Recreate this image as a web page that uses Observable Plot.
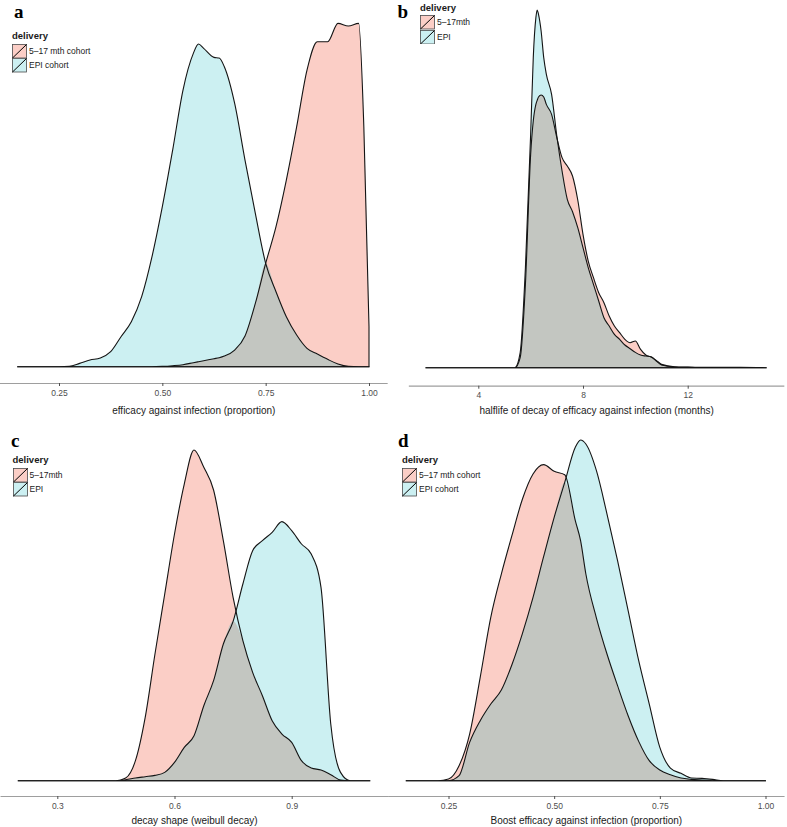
<!DOCTYPE html>
<html><head><meta charset="utf-8">
<script src="https://cdn.jsdelivr.net/npm/d3@7"></script>
<script src="https://cdn.jsdelivr.net/npm/@observablehq/plot@0.6"></script>
<style>
body{margin:0;background:#fff;font-family:"Liberation Sans",Arial,Helvetica,sans-serif;}
#fig{position:relative;width:787px;height:827px;overflow:hidden;background:#fff;}
.panel{position:absolute;}
.panel svg{display:block;overflow:visible;}
.panel g[aria-label="x-axis label"] text{font-size:10px;fill:#1a1a1a;}
.letter{position:absolute;font-family:"Liberation Serif","Times New Roman",serif;font-weight:bold;font-size:19px;line-height:19px;color:#000;}
.legend{position:absolute;font-size:8.5px;color:#1a1a1a;}
.legend .ttl{font-weight:bold;font-size:9.5px;line-height:11px;height:11px;margin-bottom:2.5px;}
.legend .row{display:flex;align-items:center;height:14.5px;}
.legend .row svg{display:block;margin-right:2px;}
</style>
</head><body>
<div id="fig"></div>
<script>
// ---------- data (density, relative units) ----------
const seriesNamesLong = ["5\u201317 mth cohort", "EPI cohort"];
const seriesNamesShort = ["5\u201317mth", "EPI"];

// a: efficacy against infection (proportion)
const xA = [0.15,0.175,0.2,0.225,0.25,0.275,0.3,0.325,0.35,0.375,0.4,0.425,0.45,0.475,0.5,0.525,0.55,0.575,0.5875,0.6,0.625,0.6375,0.65,0.675,0.7,0.725,0.75,0.775,0.8,0.825,0.85,0.875,0.9,0.925,0.95,0.975,0.9875,1.0];
const cohortA = [0,0,0,0,0,0,0,0,0,0,0,0,0,0,1,3,6,12,15,18,24,27,32,50,92,190,310,420,560,720,890,975,975,1030,1022,1030,720,120];
const epiA    = [0,0,0,0,0,1,10,20,26,45,90,135,210,330,480,650,830,940,968,955,928,926,900,790,620,460,310,225,150,95,55,38,22,8,1,0,0,0];
const ticksA = [0.25,0.5,0.75,1.0];

// b: halflife of decay of efficacy against infection (months)
const xB = [2,3,4,5,5.4,5.6,5.8,6.0,6.1,6.2,6.25,6.3,6.4,6.5,6.6,6.8,7.0,7.2,7.4,7.6,7.8,8.0,8.2,8.4,8.6,8.8,9.0,9.2,9.4,9.6,9.8,10.0,10.2,10.4,10.6,10.8,11,11.5,12,13,14,15];
const cohortB = [0,0,0,0,0,30,250,640,740,790,802,812,818,812,790,760,690,630,605,575,503,400,320,270,225,195,155,125,105,85,75,80,55,38,32,22,10,3,2,1,1,0];
const epiB    = [0,0,0,0,0,45,300,700,930,1050,1073,1060,1010,930,880,820,695,590,505,468,420,360,300,250,200,150,125,100,85,68,57,46,38,35,33,20,8,2,1,0,0,0];
const ticksB = [4,8,12];

// c: decay shape (weibull decay)
const xC = [0.2,0.225,0.25,0.275,0.3,0.325,0.35,0.375,0.4,0.425,0.45,0.475,0.5,0.525,0.55,0.575,0.6,0.625,0.65,0.675,0.7,0.725,0.75,0.775,0.8,0.825,0.85,0.875,0.9,0.925,0.95,0.975,1.0,1.025,1.05,1.075,1.1];
const cohortC = [0,0,0,0,0,0,0,0,0,0,0,8,60,190,380,560,740,890,992,940,872,720,550,420,325,255,180,140,115,60,38,32,18,2,0,0,0];
const epiC    = [0,0,0,0,0,0,0,0,0,0,0,3,8,12,16,25,55,100,135,225,300,410,478,590,690,720,745,777,750,710,680,580,170,25,0,0,0];
const ticksC = [0.3,0.6,0.9];

// d: Boost efficacy against infection (proportion)
const xD = [0.15,0.175,0.2,0.225,0.25,0.275,0.3,0.325,0.35,0.375,0.4,0.425,0.45,0.475,0.5,0.525,0.55,0.5625,0.575,0.6,0.625,0.65,0.675,0.7,0.725,0.75,0.775,0.8,0.825,0.85,0.875,0.9,0.925,0.95,0.975,1.0];
const cohortD = [0,0,0,0,5,45,140,310,490,620,735,845,920,948,928,918,780,720,620,488,380,285,195,118,60,32,18,8,4,2,0,0,0,0,0,0];
const epiD    = [0,0,0,0,0,15,115,180,230,272,348,442,550,672,790,895,1000,1022,1010,930,800,660,510,360,230,100,38,22,8,7,4,0,0,0,0,0];
const ticksD = [0.25,0.5,0.75,1.0];

// ---------- styles ----------
const PINK = "#fbcec6", CYAN = "#ccf0f2", GRAY = "#c3c6c1", LINE = "#141414";

const panels = [
  {letter:"a", x:xA, s1:cohortA, s2:epiA, ticks:ticksA, fmt:".2f", names:seriesNamesLong,
   label:"efficacy against infection (proportion)",
   left:0, top:0, width:393, height:420, t0:0.25, p0:59, t1:1.0, p1:369, axisY:383, baseY:366.7, peakY:23.4, labelOffset:30,
   letterPos:[14,2], legendPos:[12,30]},
  {letter:"b", x:xB, s1:cohortB, s2:epiB, ticks:ticksB, fmt:"d", names:seriesNamesShort,
   label:"halflife of decay of efficacy against infection (months)",
   left:380, top:0, width:407, height:420, t0:4, p0:478.3, t1:12, p1:687.7, axisY:385.7, baseY:367.7, peakY:10, labelOffset:28,
   letterPos:[397.5,2], legendPos:[420,1.5]},
  {letter:"c", x:xC, s1:cohortC, s2:epiC, ticks:ticksC, fmt:".1f", names:seriesNamesShort,
   label:"decay shape (weibull decay)",
   left:0, top:420, width:393, height:407, t0:0.3, p0:57.3, t1:0.9, p1:291.7, axisY:796, baseY:780.7, peakY:450, labelOffset:27,
   letterPos:[11,431], legendPos:[12.5,454]},
  {letter:"d", x:xD, s1:cohortD, s2:epiD, ticks:ticksD, fmt:".2f", names:seriesNamesLong,
   label:"Boost efficacy against infection (proportion)",
   left:380, top:420, width:407, height:407, t0:0.25, p0:448.5, t1:1.0, p1:765.5, axisY:796, baseY:780.7, peakY:440, labelOffset:27,
   letterPos:[398,431], legendPos:[402,454]}
];

const fig = document.getElementById("fig");

for (const P of panels) {
  const rows = P.x.map((x, i) => ({x, a: P.s1[i], b: P.s2[i], o: Math.min(P.s1[i], P.s2[i])}));
  const lo = d3.min(P.x), hi = d3.max(P.x), pad = 0.05 * (hi - lo);
  const dom = [lo - pad, hi + pad];
  const k = (P.p1 - P.p0) / (P.t1 - P.t0);
  const xl = P.p0 + (dom[0] - P.t0) * k - P.left;
  const xr = P.p0 + (dom[1] - P.t0) * k - P.left;
  const ymax = d3.max(rows, d => Math.max(d.a, d.b));
  const curve = "monotone-x";

  const plot = Plot.plot({
    width: P.width,
    height: P.height,
    marginLeft: xl,
    marginRight: P.width - xr,
    marginTop: 0,
    marginBottom: P.height - (P.axisY - P.top),
    style: {background: "transparent", fontFamily: '"Liberation Sans", Arial, Helvetica, sans-serif', color: "#4d4d4d"},
    x: {domain: dom},
    y: {domain: [0, ymax], range: [P.baseY - P.top, P.peakY - P.top], axis: null},
    marks: [
      Plot.areaY(rows, {x: "x", y: "a", fill: PINK, curve}),
      Plot.areaY(rows, {x: "x", y: "b", fill: CYAN, curve}),
      Plot.areaY(rows, {x: "x", y: "o", fill: GRAY, curve}),
      Plot.areaY(rows, {x: "x", y: "a", fill: "none", stroke: LINE, strokeWidth: 1.1, curve}),
      Plot.areaY(rows, {x: "x", y: "b", fill: "none", stroke: LINE, strokeWidth: 1.1, curve}),
      Plot.frame({anchor: "bottom", stroke: "#9e9e9e", strokeWidth: 1.2}),
      Plot.axisX({ticks: P.ticks, tickFormat: d3.format(P.fmt), tickSize: 3, tickPadding: 3, fontSize: 8.5,
                  label: P.label, labelAnchor: "center", labelArrow: "none", labelOffset: P.labelOffset})
    ]
  });
  const wrap = document.createElement("div");
  wrap.className = "panel";
  wrap.style.left = P.left + "px";
  wrap.style.top = P.top + "px";
  wrap.appendChild(plot);
  fig.appendChild(wrap);

  const L = document.createElement("div");
  L.className = "letter";
  L.textContent = P.letter;
  L.style.left = P.letterPos[0] + "px";
  L.style.top = P.letterPos[1] + "px";
  fig.appendChild(L);

  const G = document.createElement("div");
  G.className = "legend";
  G.style.left = P.legendPos[0] + "px";
  G.style.top = P.legendPos[1] + "px";
  const t = document.createElement("div");
  t.className = "ttl";
  t.textContent = "delivery";
  G.appendChild(t);
  [PINK, CYAN].forEach((c, i) => {
    const r = document.createElement("div");
    r.className = "row";
    r.innerHTML = `<svg width="15" height="14.5"><rect x="0.5" y="0.5" width="14" height="13.5" fill="${c}" stroke="#4a4a4a" stroke-width="0.8"/><line x1="0.5" y1="14" x2="14.5" y2="0.5" stroke="#000" stroke-width="1"/></svg><span></span>`;
    r.querySelector("span").textContent = P.names[i];
    G.appendChild(r);
  });
  fig.appendChild(G);
}
</script>
</body></html>
